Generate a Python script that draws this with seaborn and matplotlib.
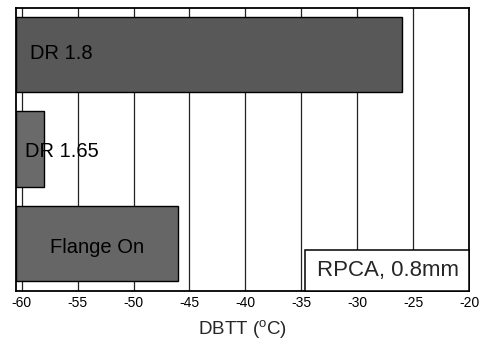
import matplotlib
matplotlib.use("Agg")
import matplotlib.pyplot as plt
from matplotlib.patches import Rectangle
import seaborn as sns
import pandas as pd

# DBTT results per condition
conditions = ["DR 1.8", "DR 1.65", "Flange On"]
dbtt = [-26.0, -58.0, -46.0]
tick_values = [-60, -55, -50, -45, -40, -35, -30, -25, -20]
note = "RPCA, 0.8mm"

X_MIN, X_MAX = -60.5, -20.0
bar_colors = ["#585858", "#6a6a6a", "#666666"]
label_dx = [1.25, 0.8, 3.0]      # label inset from the left axis edge (deg C)
label_dy = [-0.01, 0.03, 0.04]   # small vertical nudge (category units)

sns.set_theme(style="white")
plt.rcParams["font.family"] = ["Liberation Sans", "DejaVu Sans"]
plt.rcParams["mathtext.fontset"] = "custom"
plt.rcParams["mathtext.rm"] = "Liberation Sans"

fig = plt.figure(figsize=(4.82, 3.45), dpi=100)
ax = fig.add_axes([16 / 482, 1 - 290.7 / 345, (469.3 - 16) / 482, (290.7 - 7.5) / 345])

# bars grow from the left edge of the axis (X_MIN), so plot the span above it
df = pd.DataFrame({"condition": conditions,
                   "span": [v - X_MIN for v in dbtt]})
sns.barplot(data=df, x="span", y="condition", hue="condition",
            palette=bar_colors, orient="h", width=0.8, legend=False,
            edgecolor="black", linewidth=1.0, ax=ax, zorder=3)

ax.set_xlim(0, X_MAX - X_MIN)
ax.set_ylim(2.5, -0.5)
ax.set_xticks([t - X_MIN for t in tick_values])
ax.set_xticklabels([str(t) for t in tick_values], fontsize=10)
ax.set_yticks([])
ax.set_ylabel("")
ax.set_xlabel(r"DBTT ($^{\rm o}$C)", fontsize=13.5, labelpad=6)
ax.tick_params(axis="x", direction="in", length=4, width=1, color="black",
               pad=4, labelcolor="black")

for t in tick_values[:-1]:
    ax.axvline(t - X_MIN, color="#222222", lw=0.9, zorder=1)

for s in ax.spines.values():
    s.set_visible(True)
    s.set_color("black")
    s.set_linewidth(1.3)

for i, (name, dx, dy) in enumerate(zip(conditions, label_dx, label_dy)):
    ax.text(dx, i + dy, name, fontsize=14.5, color="black",
            ha="left", va="center", zorder=5)

# annotation box in the lower-right corner
ax.add_patch(Rectangle((0.6375, 0.0), 0.3625, 0.144, transform=ax.transAxes,
                       facecolor="white", edgecolor="black", lw=1.1,
                       zorder=6, clip_on=False))
ax.text(0.8206, 0.072, note, transform=ax.transAxes, fontsize=16,
        ha="center", va="center", zorder=7)

fig.savefig("out.png", dpi=100)
